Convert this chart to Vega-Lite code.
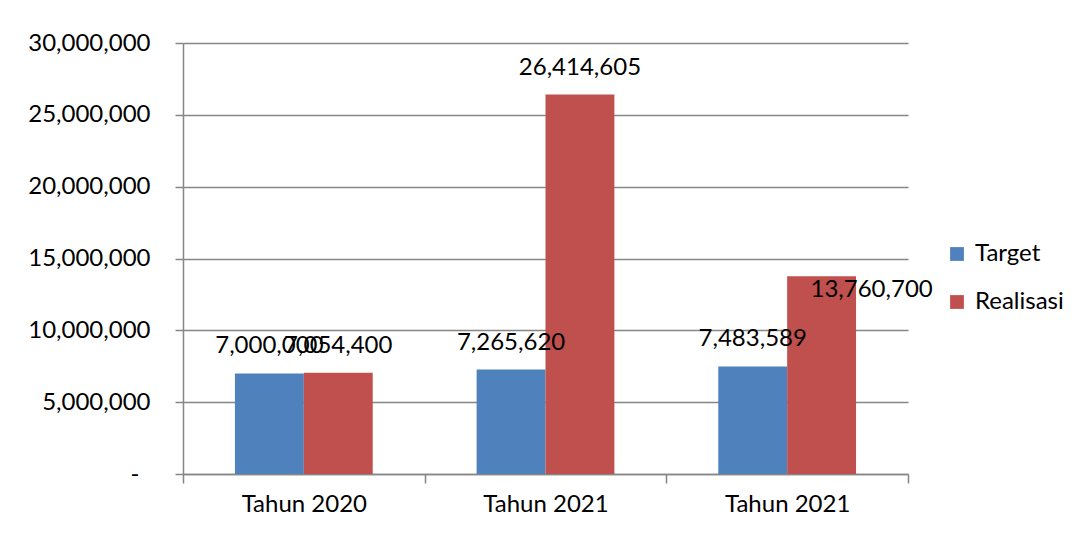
{
  "$schema": "https://vega.github.io/schema/vega-lite/v6.json",
  "width": 725,
  "height": 431,
  "autosize": {"type": "none"},
  "padding": {"left": 183, "top": 43, "right": 170, "bottom": 60},
  "background": "white",
  "config": {
    "font": "Lato",
    "view": {"stroke": null},
    "axis": {"labelFont": "Lato", "labelColor": "#000000", "labelFontSize": 24}
  },
  "data": {
    "values": [
      {"kelompok": "Tahun 2020", "seri": "Target", "nilai": 7000000},
      {"kelompok": "Tahun 2020", "seri": "Realisasi", "nilai": 7054400},
      {"kelompok": "Tahun 2021", "seri": "Target", "nilai": 7265620},
      {"kelompok": "Tahun 2021", "seri": "Realisasi", "nilai": 26414605},
      {"kelompok": "Tahun 2021 (2)", "seri": "Target", "nilai": 7483589},
      {"kelompok": "Tahun 2021 (2)", "seri": "Realisasi", "nilai": 13760700}
    ]
  },
  "encoding": {
    "x": {
      "field": "kelompok",
      "type": "nominal",
      "sort": null,
      "title": null,
      "scale": {"paddingInner": 0, "paddingOuter": 0},
      "axis": {
        "labelExpr": "replace(datum.label, ' (2)', '')",
        "labelAngle": 0,
        "tickBand": "extent",
        "domainColor": "#868686",
        "domainWidth": 1.5,
        "tickColor": "#868686",
        "tickWidth": 1.5,
        "tickSize": 9,
        "labelPadding": 9,
        "grid": false
      }
    },
    "xOffset": {
      "field": "seri",
      "type": "nominal",
      "sort": ["Target", "Realisasi"],
      "scale": {"paddingInner": 0, "paddingOuter": 0.754}
    },
    "y": {
      "field": "nilai",
      "type": "quantitative",
      "title": null,
      "scale": {"domain": [0, 30000000], "nice": false},
      "axis": {
        "values": [0, 5000000, 10000000, 15000000, 20000000, 25000000, 30000000],
        "labelExpr": "datum.value == 0 ? '-' : format(datum.value, ',')",
        "labelPadding": {"condition": {"test": "datum.value == 0", "value": 36}, "value": 25},
        "grid": true,
        "gridColor": "#868686",
        "gridWidth": 1.5,
        "domainColor": "#868686",
        "domainWidth": 1.5,
        "tickColor": "#868686",
        "tickWidth": 1.5,
        "tickSize": 8
      }
    }
  },
  "layer": [
    {
      "mark": {"type": "bar"},
      "encoding": {
        "color": {
          "field": "seri",
          "type": "nominal",
          "sort": ["Target", "Realisasi"],
          "scale": {"domain": ["Target", "Realisasi"], "range": ["#4F81BD", "#C0504D"]},
          "legend": {
            "title": null,
            "orient": "none",
            "legendX": 762,
            "legendY": 199,
            "symbolType": "square",
            "symbolSize": 190,
            "symbolStrokeWidth": 0,
            "labelFont": "Lato",
            "labelFontSize": 24,
            "labelColor": "#000000",
            "labelOffset": 6,
            "rowPadding": 24
          }
        }
      }
    },
    {
      "transform": [{"filter": "datum.nilai != 13760700"}],
      "mark": {"type": "text", "baseline": "middle", "align": "center", "dy": -27, "fontSize": 24, "font": "Lato", "color": "#000000"},
      "encoding": {
        "text": {"field": "nilai", "type": "quantitative", "format": ","}
      }
    },
    {
      "transform": [{"filter": "datum.nilai == 13760700"}],
      "mark": {"type": "text", "baseline": "middle", "align": "center", "dx": 50, "dy": 14, "fontSize": 24, "font": "Lato", "color": "#000000"},
      "encoding": {
        "text": {"field": "nilai", "type": "quantitative", "format": ","}
      }
    }
  ]
}
